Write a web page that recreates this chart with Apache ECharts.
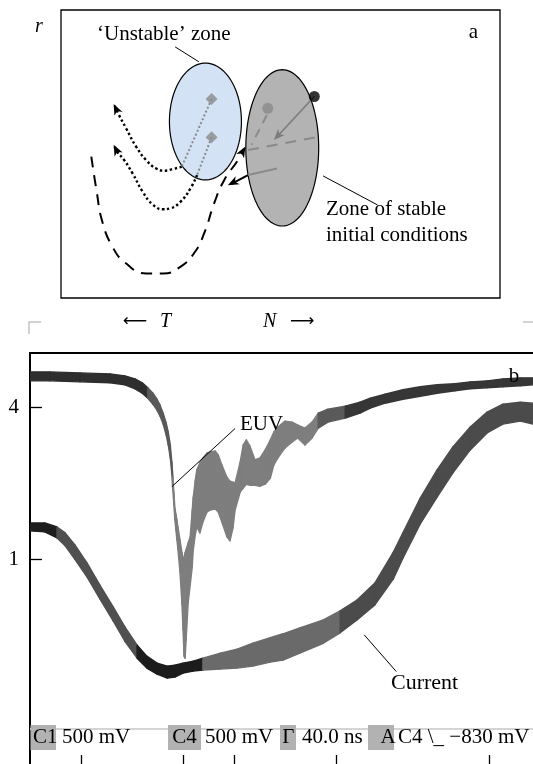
<!DOCTYPE html>
<html>
<head>
<meta charset="utf-8">
<script src="https://cdn.jsdelivr.net/npm/echarts@6/dist/echarts.min.js"></script>
<style>
html,body{margin:0;padding:0;background:#fff;}
#c{width:533px;height:764px;}
</style>
</head>
<body>
<div id="c"></div>
<script>
// ================= Panel b: oscilloscope traces =================
// x in time divisions (40 ns / div), y in vertical divisions
const euvX = [0,0.39,0.98,1.57,1.86,2.06,2.20,2.31,2.41,2.49,2.55,2.61,2.67,2.71,2.75,2.78,2.80,2.82,2.84,2.86,2.88,2.90,2.94,2.98,3.00,3.02,3.04,3.06,3.10,3.14,3.18,3.20,3.24,3.27,3.33,3.39,3.47,3.53,3.63,3.69,3.76,3.86,3.92,3.98,4.02,4.12,4.18,4.24,4.31,4.41,4.51,4.61,4.71,4.78,4.86,5.00,5.14,5.25,5.39,5.53,5.65,5.84,6.18,6.47,6.67,6.96,7.31,7.65,7.98,8.33,8.63,8.96,9.27,9.61,9.86];
const euvTop = [7.89,7.89,7.87,7.85,7.81,7.75,7.67,7.57,7.46,7.34,7.22,7.06,6.86,6.68,6.42,6.08,5.79,5.47,5.15,5.03,4.91,4.77,4.51,4.25,4.10,4.17,4.25,4.31,4.45,4.57,5.11,5.37,5.71,5.92,6.06,6.16,6.26,6.28,6.30,6.22,6.02,5.77,5.69,5.67,5.65,6.08,6.42,6.52,6.40,6.12,6.16,6.32,6.52,6.68,6.78,6.90,6.88,6.82,6.76,6.88,7.06,7.14,7.20,7.28,7.36,7.44,7.53,7.59,7.63,7.65,7.69,7.71,7.75,7.77,7.77];
const euvBottom = [7.71,7.71,7.69,7.67,7.63,7.55,7.46,7.36,7.24,7.12,7.00,6.84,6.62,6.42,6.16,5.84,5.51,5.21,4.91,4.71,4.51,4.31,3.86,3.20,2.70,2.17,2.13,2.49,3.24,3.60,3.96,4.31,4.61,4.77,4.65,4.87,5.07,5.11,5.13,5.07,4.87,4.57,4.49,4.75,5.11,5.47,5.55,5.63,5.61,5.61,5.59,5.63,5.75,6.02,6.16,6.36,6.48,6.56,6.42,6.56,6.76,6.88,6.96,7.06,7.16,7.26,7.34,7.40,7.46,7.51,7.55,7.57,7.59,7.61,7.63];

const currentX = [0,0.29,0.53,0.69,0.88,1.12,1.37,1.63,1.86,2.10,2.29,2.49,2.69,2.84,3.00,3.20,3.39,3.73,4.06,4.37,4.71,4.96,5.29,5.75,6.08,6.41,6.76,7.12,7.31,7.65,7.98,8.29,8.63,8.96,9.27,9.61,9.86];
const currentTop = [4.85,4.85,4.77,4.65,4.41,4.04,3.60,3.16,2.76,2.39,2.17,2.03,1.97,1.99,2.03,2.07,2.13,2.23,2.31,2.43,2.54,2.62,2.74,2.90,3.08,3.30,3.64,4.26,4.65,5.35,5.92,6.38,6.78,7.08,7.24,7.28,7.26];
const currentBottom = [4.69,4.67,4.55,4.39,4.12,3.76,3.32,2.88,2.47,2.13,1.93,1.81,1.73,1.75,1.83,1.87,1.89,1.91,1.93,1.97,2.05,2.09,2.23,2.43,2.64,2.90,3.20,3.72,4.14,4.83,5.37,5.86,6.32,6.66,6.84,6.90,6.84];

const timeTicks = [1, 3, 4, 6, 9];
const levelTicks = [7.18, 4.11];
const levelTickLabels = ['4', '1'];
const euvLeader = [[4.02, 6.75], [2.78, 5.58]];
const currentLeader = [[6.55, 2.60], [7.18, 1.86]];
const readoutKeys = ['C1', 'C4', 'Γ', 'A'];
const readoutValues = ['500 mV', '500 mV', '40.0 ns', 'C4 \\_ \u2212830 mV'];

// ================= Panel a: schematic (r vs T/N plane) =================
const ellipseCx = [3.29, 5.04];
const ellipseCy = [4.02, 3.42];
const ellipseRx = [0.82, 0.83];
const ellipseRy = [1.33, 1.78];
const upperDottedPath = [[2.75,2.99],[2.52,2.93],[2.37,2.90],[2.17,2.95],[1.94,3.14],[1.71,3.45],[1.48,3.87],[1.32,4.17],[1.22,4.38]];
const lowerDottedPath = [[3.10,2.80],[2.95,2.50],[2.72,2.19],[2.48,2.04],[2.33,2.02],[2.10,2.12],[1.86,2.42],[1.63,2.84],[1.44,3.14],[1.28,3.33],[1.22,3.44]];
const dashedPath = [[0.69,3.22],[0.82,2.38],[0.93,1.78],[1.17,1.17],[1.48,0.79],[1.94,0.56],[2.33,0.56],[2.72,0.71],[3.03,1.02],[3.26,1.47],[3.49,2.16],[3.72,2.69],[4.03,3.14],[4.15,3.36]];
const grayDottedA = [[3.43,4.53],[2.75,2.99]];
const grayDottedB = [[3.43,3.66],[3.10,2.80]];
const grayArrowPath = [[5.77,4.59],[4.90,3.65]];
const grayDashedA = [[4.69,4.17],[4.34,3.49]];
const grayDashedB = [[4.26,3.37],[5.85,3.67]];
const grayPushPath = [[4.92,2.95],[4.26,2.80]];
const blackPushPath = [[4.26,2.80],[3.88,2.60]];
const arrowTails = [[1.32,4.17],[1.28,3.33],[4.03,3.14],[5.00,3.76],[4.26,2.80]];
const arrowTips  = [[1.20,4.42],[1.20,3.49],[4.20,3.45],[4.85,3.60],[3.80,2.57]];
const diamondPoints = [[3.43,4.53],[3.43,3.66]];
const blackDot = [[5.77,4.59]];
const grayDot = [[4.71,4.32]];
const unstableLeader = [[2.60,5.72],[3.14,5.38]];
const stableLeader = [[5.97,2.78],[7.21,2.12]];

// ================= styles =================
const SERIF = 'Liberation Serif';
const ellipseFills = ['#d3e2f4', '#b3b3b3'];
const arrowColors = ['#000', '#000', '#000', '#7c7c7c', '#000'];

function euvColorAt(x) {
  if (x < 2.35) return '#2e2e2e';
  if (x < 2.80) return '#595959';
  if (x < 5.65) return '#7e7e7e';
  if (x < 6.20) return '#5a5a5a';
  return '#363636';
}
function currentColorAt(x) {
  if (x < 0.5) return '#1e1e1e';
  if (x < 2.15) return '#505050';
  if (x < 3.39) return '#1c1c1c';
  if (x < 6.0) return '#6a6a6a';
  return '#4b4b4b';
}

function bandSeries(name, xs, tops, bots, colorAt) {
  const data = xs.map((x, i) => [x, tops[i], bots[i]]);
  return {
    type: 'custom', name: name, xAxisIndex: 1, yAxisIndex: 1, clip: true, silent: true,
    data: data, encode: { x: 0, y: [1, 2] }, z: 3,
    renderItem: function (params, api) {
      const i = params.dataIndexInside;
      if (i >= data.length - 1) return null;
      const x0 = api.value(0, i), t0 = api.value(1, i), b0 = api.value(2, i);
      const x1 = api.value(0, i + 1), t1 = api.value(1, i + 1), b1 = api.value(2, i + 1);
      const pts = [api.coord([x0, t0]), api.coord([x1, t1]), api.coord([x1, b1]), api.coord([x0, b0])];
      const c = colorAt((x0 + x1) / 2);
      return { type: 'polygon', shape: { points: pts }, style: { fill: c, stroke: c, lineWidth: 1.4, lineJoin: 'round' } };
    }
  };
}

function pathSeries(pts, color, width, type, smooth, xi, yi, z) {
  return {
    type: 'line', xAxisIndex: xi || 0, yAxisIndex: yi || 0, data: pts, symbol: 'none', showSymbol: false,
    smooth: smooth || false, silent: true, z: z || 4,
    lineStyle: { color: color, width: width, type: type || 'solid', cap: 'butt' }
  };
}

const series = [
  // panel a
  {
    type: 'custom', xAxisIndex: 0, yAxisIndex: 0, silent: true, z: 2,
    data: ellipseCx.map((cx, i) => [cx, ellipseCy[i], ellipseRx[i], ellipseRy[i]]),
    renderItem: function (params, api) {
      const c = api.coord([api.value(0), api.value(1)]);
      const s = api.size([api.value(2), api.value(3)]);
      const pts = [];
      for (let k = 0; k < 120; k++) {
        const a = k / 120 * Math.PI * 2;
        pts.push([c[0] + s[0] * Math.cos(a), c[1] + s[1] * Math.sin(a)]);
      }
      return { type: 'polygon', shape: { points: pts }, style: { fill: ellipseFills[params.dataIndex], stroke: '#000', lineWidth: 1.2 } };
    }
  },
  pathSeries(grayDottedA, '#8a8a8a', 2, [2, 2.2]),
  pathSeries(grayDottedB, '#8a8a8a', 2, [2, 2.2]),
  pathSeries(upperDottedPath, '#000', 2.4, [2.4, 2.6], 0.5),
  pathSeries(lowerDottedPath, '#000', 2.4, [2.4, 2.6], 0.5),
  pathSeries(dashedPath, '#000', 2, [11, 8], 0.5),
  pathSeries(grayArrowPath, '#7c7c7c', 1.6),
  pathSeries(grayDashedA, '#8a8a8a', 2, [9, 7]),
  pathSeries(grayDashedB, '#8a8a8a', 2, [11, 8]),
  pathSeries(grayPushPath, '#8a8a8a', 2),
  pathSeries(blackPushPath, '#000', 2),
  pathSeries(unstableLeader, '#000', 1),
  pathSeries(stableLeader, '#000', 1),
  {
    type: 'custom', xAxisIndex: 0, yAxisIndex: 0, silent: true, z: 5,
    data: arrowTails.map((t, i) => [t[0], t[1], arrowTips[i][0], arrowTips[i][1]]),
    renderItem: function (params, api) {
      const p1 = api.coord([api.value(0), api.value(1)]);
      const p2 = api.coord([api.value(2), api.value(3)]);
      let dx = p2[0] - p1[0], dy = p2[1] - p1[1];
      const L = Math.sqrt(dx * dx + dy * dy); dx /= L; dy /= L;
      const len = 11, half = 4.5, nx = -dy, ny = dx;
      const pts = [
        [p2[0], p2[1]],
        [p2[0] - len * dx + half * nx, p2[1] - len * dy + half * ny],
        [p2[0] - 0.72 * len * dx, p2[1] - 0.72 * len * dy],
        [p2[0] - len * dx - half * nx, p2[1] - len * dy - half * ny]
      ];
      return { type: 'polygon', shape: { points: pts }, style: { fill: arrowColors[params.dataIndex] } };
    }
  },
  { type: 'scatter', xAxisIndex: 0, yAxisIndex: 0, data: diamondPoints, symbol: 'diamond', symbolSize: 12, itemStyle: { color: '#8a8a8a' }, silent: true, z: 6 },
  { type: 'scatter', xAxisIndex: 0, yAxisIndex: 0, data: grayDot, symbol: 'circle', symbolSize: 11, itemStyle: { color: '#8a8a8a' }, silent: true, z: 6 },
  { type: 'scatter', xAxisIndex: 0, yAxisIndex: 0, data: blackDot, symbol: 'circle', symbolSize: 11, itemStyle: { color: '#000' }, silent: true, z: 6 },
  // panel b
  bandSeries('Current', currentX, currentTop, currentBottom, currentColorAt),
  bandSeries('EUV', euvX, euvTop, euvBottom, euvColorAt),
  pathSeries(euvLeader, '#000', 1, 'solid', false, 1, 1, 6),
  pathSeries(currentLeader, '#000', 1, 'solid', false, 1, 1, 6)
];

function txt(x, y, text, size, opts) {
  opts = opts || {};
  return {
    type: 'text', x: x, y: y, z: 20, silent: true,
    style: {
      text: text, fill: '#000',
      fontFamily: opts.family || SERIF, fontSize: size, fontStyle: opts.italic ? 'italic' : 'normal',
      align: opts.align || 'left', textAlign: opts.align || 'left',
      verticalAlign: 'middle', textVerticalAlign: 'middle'
    }
  };
}

const readoutBoxes = [[30.5, 25.5], [168, 33], [280, 16], [368, 26]]; // [left, width] in px (layout)
const readoutKeyX = [45.3, 184.5, 288.3, 388];
const readoutValueX = [62, 205, 302, 398];

const graphic = [
  // corner marks above panel b
  { type: 'polyline', shape: { points: [[29, 334], [29, 322], [41, 322]] }, style: { stroke: '#c4c4c4', lineWidth: 1.5, fill: null }, silent: true },
  { type: 'line', shape: { x1: 523, y1: 322, x2: 533, y2: 322 }, style: { stroke: '#c4c4c4', lineWidth: 1.5 }, silent: true },
  // panel a texts
  txt(39, 27, 'r', 20, { italic: true, align: 'center' }),
  txt(473.5, 32, 'a', 21, { align: 'center' }),
  txt(97, 34, '\u2018Unstable\u2019 zone', 21),
  txt(326, 209, 'Zone of stable', 21),
  txt(326, 235, 'initial conditions', 21),
  txt(147, 322, '\u27F5', 17, { align: 'right', family: 'DejaVu Sans' }),
  txt(160, 322, 'T', 20, { italic: true }),
  txt(263, 322, 'N', 20, { italic: true }),
  txt(290, 322, '\u27F6', 17, { family: 'DejaVu Sans' }),
  // panel b texts
  txt(240, 424, 'EUV', 21),
  txt(514, 376, 'b', 21, { align: 'center' }),
  txt(391, 683, 'Current', 22),
  // readout line
  { type: 'line', shape: { x1: 30, y1: 729, x2: 533, y2: 729 }, style: { stroke: '#d4d4d4', lineWidth: 2 }, silent: true, z: 15 }
];
readoutBoxes.forEach(function (b, i) {
  graphic.push({ type: 'rect', shape: { x: b[0], y: 725, width: b[1], height: 25 }, style: { fill: '#b2b2b2' }, silent: true, z: 16 });
  graphic.push(txt(readoutKeyX[i], 737.5, readoutKeys[i], 21, { align: 'center' }));
  graphic.push(txt(readoutValueX[i], 737.5, readoutValues[i], 21));
});

function nearestLabel(v) {
  let best = 0;
  for (let i = 1; i < levelTicks.length; i++) if (Math.abs(levelTicks[i] - v) < Math.abs(levelTicks[best] - v)) best = i;
  return levelTickLabels[best];
}

const option = {
  animation: false,
  backgroundColor: '#fff',
  grid: [
    { left: 61, top: 10, width: 439, height: 288, show: true, borderColor: '#000', borderWidth: 1.3, backgroundColor: 'transparent' },
    { left: 30, top: 353, right: 0, bottom: 0, show: false }
  ],
  xAxis: [
    { gridIndex: 0, type: 'value', min: 0, max: 10, show: false },
    {
      gridIndex: 1, type: 'value', min: 0, max: 9.86, position: 'bottom',
      axisLine: { show: false, onZero: false },
      axisTick: { show: true, inside: true, length: 9, customValues: timeTicks, lineStyle: { color: '#000', width: 1.3 } },
      axisLabel: { show: false }, splitLine: { show: false }
    },
    {
      gridIndex: 1, type: 'value', min: 0, max: 9.86, position: 'top',
      axisLine: { show: true, onZero: false, lineStyle: { color: '#000', width: 2 } },
      axisTick: { show: false }, axisLabel: { show: false }, splitLine: { show: false }
    }
  ],
  yAxis: [
    { gridIndex: 0, type: 'value', min: 0, max: 6.56, show: false },
    {
      gridIndex: 1, type: 'value', min: 0, max: 8.27,
      axisLine: { show: true, onZero: false, lineStyle: { color: '#000', width: 2 } },
      axisTick: { show: true, inside: true, length: 12, customValues: levelTicks, lineStyle: { color: '#000', width: 1.3 } },
      axisLabel: { show: true, customValues: levelTicks, formatter: nearestLabel, fontFamily: SERIF, fontSize: 21, color: '#000', margin: 11 },
      splitLine: { show: false }
    }
  ],
  series: series,
  graphic: graphic
};

const chart = echarts.init(document.getElementById('c'), null, { renderer: 'canvas', width: 533, height: 764 });
chart.setOption(option);
</script>
</body>
</html>
